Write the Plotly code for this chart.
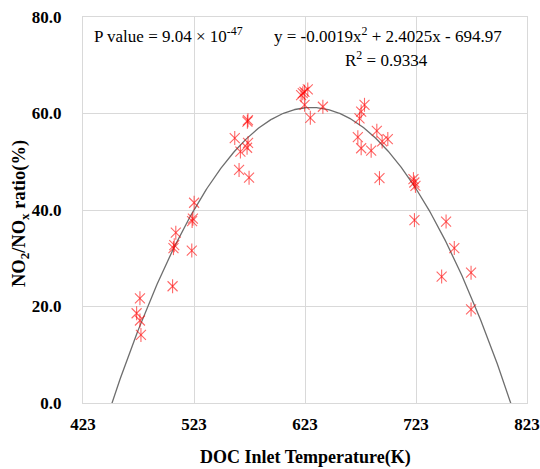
import numpy as np
import plotly.graph_objects as go

# Data
temps = [474.3, 471.3, 474.3, 475.2, 503.7, 504.5, 505.2, 506.6, 521.0, 521.3, 522.0, 523.1,
         559.7, 571.1, 571.6, 571.7, 570.8, 564.8, 563.6, 572.6,
         619.5, 622.5, 625.5, 621.0, 622.6, 639.1, 627.8,
         676.6, 673.6, 672.1, 687.7, 697.6, 692.5, 670.6, 673.6, 682.6, 690.1,
         720.7, 721.5, 722.5, 721.6, 750.1, 757.5, 772.6, 746.1, 772.6]
ratios = [21.7, 18.6, 17.1, 14.1, 24.2, 32.1, 32.7, 35.3, 31.6, 37.7, 38.2, 41.5,
          54.9, 58.3, 58.6, 53.9, 52.9, 52.1, 48.3, 46.7,
          63.8, 64.5, 65.0, 64.2, 61.8, 61.4, 59.1,
          61.8, 60.4, 59.0, 56.4, 54.7, 54.2, 55.1, 52.8, 52.3, 46.6,
          46.4, 45.7, 45.0, 37.9, 37.6, 32.1, 27.0, 26.2, 19.4]

# Quadratic trend line as drawn in the picture
trend_coef = [-0.001895, 2.3830, -687.92]
x_ticks = [423, 523, 623, 723, 823]
y_ticks = [0, 20, 40, 60, 80]

xs = np.linspace(440, 815, 400)
ys = np.polyval(trend_coef, xs)

FONT = "Liberation Serif"
red = "rgba(255,0,0,0.6)"

fig = go.Figure()
fig.add_trace(go.Scatter(x=xs, y=ys, mode="lines",
                         line=dict(color="#6e6e6e", width=1.3), showlegend=False,
                         hoverinfo="skip"))
for sym in ["x-thin", "line-ns"]:
    fig.add_trace(go.Scatter(x=temps, y=ratios, mode="markers", showlegend=False,
                             marker=dict(symbol=sym, size=10, color=red,
                                         line=dict(width=1.1, color=red))))

grid = "#d9d9d9"
fig.update_layout(
    width=540, height=469,
    margin=dict(l=83, r=13, t=17, b=66, autoexpand=False),
    paper_bgcolor="white", plot_bgcolor="white",
    font=dict(family=FONT, color="black"),
    xaxis=dict(range=[423, 823], tickvals=x_ticks, ticktext=[str(v) for v in x_ticks],
               showgrid=True, gridcolor=grid, gridwidth=1, automargin=False,
               showline=True, linecolor=grid, linewidth=1, mirror=True,
               zeroline=False, ticks="", ticklabelstandoff=6,
               tickfont=dict(family=FONT, size=17, weight="bold")),
    yaxis=dict(range=[0, 80], tickvals=y_ticks, ticktext=[f"{v:.1f}" for v in y_ticks],
               showgrid=True, gridcolor=grid, gridwidth=1, automargin=False,
               showline=True, linecolor=grid, linewidth=1, mirror=True,
               zeroline=False, ticks="", ticklabelstandoff=17,
               tickfont=dict(family=FONT, size=17, weight="bold")),
)

def px_x(p):
    return (p - 83) / 444.0

def px_y(p):
    return (403 - p) / 386.0

anns = [
    dict(text="P value = 9.04 × 10<sup>-47</sup>", x=px_x(92), y=px_y(35),
         xanchor="left", yanchor="middle", font=dict(size=17)),
    dict(text="y = -0.0019x<sup>2</sup> + 2.4025x - 694.97", x=px_x(504), y=px_y(35),
         xanchor="right", yanchor="middle", font=dict(size=17)),
    dict(text="R<sup>2</sup> = 0.9334", x=px_x(386), y=px_y(59),
         xanchor="center", yanchor="middle", font=dict(size=17)),
    dict(text="<b>DOC Inlet Temperature(K)</b>", x=px_x(305), y=px_y(457),
         xanchor="center", yanchor="middle", font=dict(size=18)),
    dict(text="<b>NO<sub>2</sub>/NO<sub>x</sub> ratio(%)</b>", x=px_x(20), y=px_y(214),
         xanchor="center", yanchor="middle", textangle=-90, font=dict(size=18.5)),
]
for a in anns:
    a.update(xref="paper", yref="paper", showarrow=False)
    a["font"] = dict(family=FONT, color="black", **a["font"])
    fig.add_annotation(**a)

fig.write_html("out.html")
